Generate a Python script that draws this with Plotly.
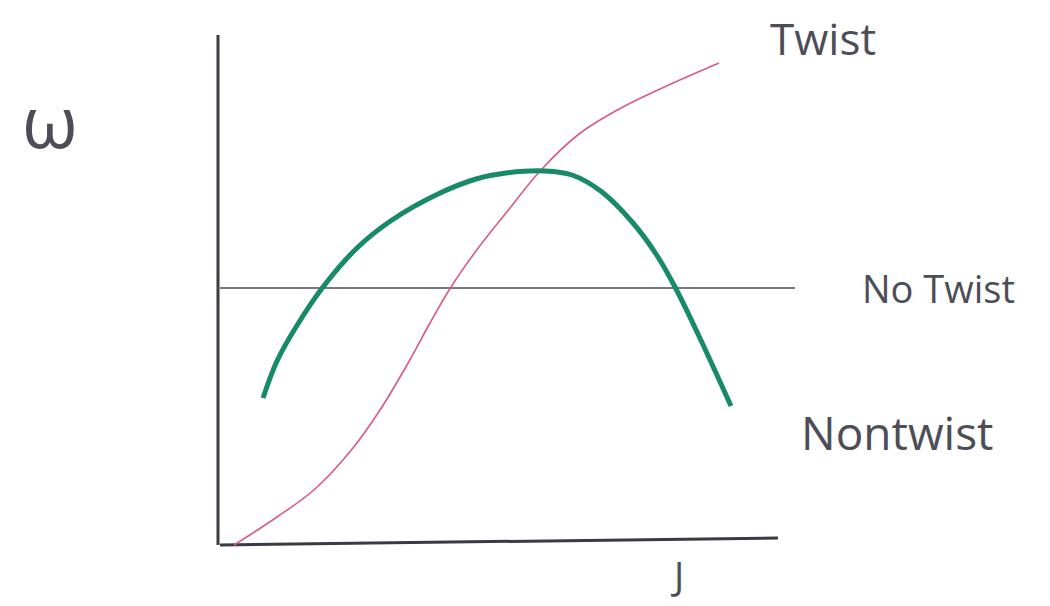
import plotly.graph_objects as go

# Twist curve: omega rises monotonically with action J
twist_J = [0.28, 1.14, 1.90, 2.66, 3.20, 3.74, 4.20, 4.62, 5.12, 5.72, 6.42, 7.18, 8.02, 9.02, 9.98]
twist_w = [0.00, 0.56, 1.12, 1.94, 2.70, 3.60, 4.44, 5.16, 5.88, 6.64, 7.50, 8.22, 8.74, 9.22, 9.64]

# Nontwist curve: omega has a maximum
nontwist_J = [0.86, 1.14, 1.52, 2.06, 2.74, 3.44, 4.36, 5.12, 5.72, 6.50, 7.04, 7.64, 8.26, 8.72, 9.10, 9.56, 10.22]
nontwist_w = [2.94, 3.68, 4.36, 5.16, 5.94, 6.50, 7.02, 7.32, 7.44, 7.48, 7.40, 7.06, 6.44, 5.82, 5.16, 4.22, 2.78]

# No-twist: constant omega
notwist_J = [0.0, 11.5]
notwist_w = [5.14, 5.14]

# Hand-drawn axes
yaxis_J = [-0.04, -0.04]
yaxis_w = [0.0, 10.2]
xaxis_J = [0.0, 11.16]
xaxis_w = [0.0, 0.14]

labels = ["Twist", "No Twist", "Nontwist", "ω", "J"]
label_J = [12.06, 14.36, 13.54, -3.4, 9.14]
label_w = [10.14, 5.14, 2.26, 8.5, -0.6]
label_size = [44, 38, 46, 72, 38]

ink = "#3a3a44"

fig = go.Figure()
fig.add_trace(go.Scatter(x=yaxis_J, y=yaxis_w, mode="lines",
                         line=dict(color=ink, width=3)))
fig.add_trace(go.Scatter(x=xaxis_J, y=xaxis_w, mode="lines",
                         line=dict(color=ink, width=3)))
fig.add_trace(go.Scatter(x=notwist_J, y=notwist_w, mode="lines",
                         line=dict(color="#4a4a5c", width=1.6)))
fig.add_trace(go.Scatter(x=twist_J, y=twist_w, mode="lines", line_shape="spline",
                         line=dict(color="#d85c7e", width=1.6)))
fig.add_trace(go.Scatter(x=nontwist_J, y=nontwist_w, mode="lines", line_shape="spline",
                         line=dict(color="#178a68", width=5)))

for t, xj, yw, s in zip(labels, label_J, label_w, label_size):
    fig.add_annotation(x=xj, y=yw, text=t, showarrow=False,
                       font=dict(family="Open Sans", size=s, color="#4d4d58"))

fig.update_layout(
    width=1050, height=606, autosize=False,
    margin=dict(l=0, r=0, t=0, b=0),
    paper_bgcolor="white", plot_bgcolor="white",
    showlegend=False,
    xaxis=dict(range=[-4.4, 16.6], visible=False),
    yaxis=dict(range=[-1.22, 10.9], visible=False),
)

fig.write_html("out.html")
